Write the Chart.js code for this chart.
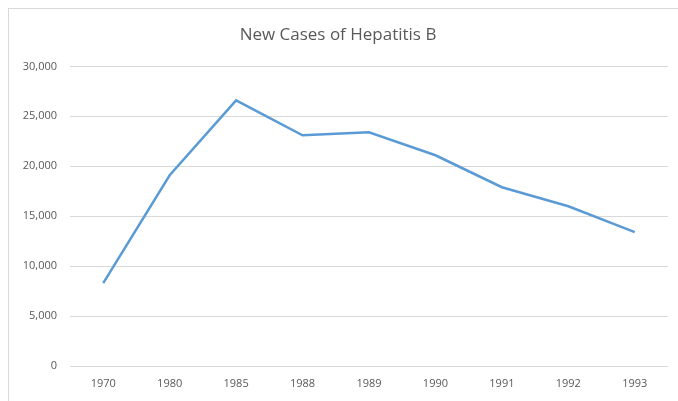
<!DOCTYPE html>
<html>
<head>
<meta charset="utf-8">
<script src="https://cdn.jsdelivr.net/npm/chart.js@4"></script>
<style>
    html, body { margin: 0; padding: 0; background: #fff; }
    #wrap { position: relative; width: 678px; height: 401px; }
    #frame {
        position: absolute; left: 8px; top: 8px; right: 0; bottom: 0;
        border-left: 1px solid #d9d9d9; border-top: 1px solid #d9d9d9;
        pointer-events: none;
    }
</style>
</head>
<body>
<div id="wrap">
    <canvas id="hepChart" width="678" height="401"></canvas>
    <div id="frame"></div>
</div>
<script>
// Chart data
const years = ['1970', '1980', '1985', '1988', '1989', '1990', '1991', '1992', '1993'];
const newCases = [8300, 19100, 26600, 23100, 23400, 21100, 17900, 16000, 13400];
const yTicks = [0, 5000, 10000, 15000, 20000, 25000, 30000];

const textColor = '#595959';
const gridColor = '#d9d9d9';

document.addEventListener('DOMContentLoaded', function() {
    const ctx = document.getElementById('hepChart');
    new Chart(ctx, {
        type: 'line',
        data: {
            labels: years,
            datasets: [{
                label: 'New Cases',
                data: newCases,
                borderColor: '#5b9bd5',
                borderWidth: 2.5,
                pointRadius: 0,
                tension: 0,
                fill: false
            }]
        },
        options: {
            responsive: false,
            animation: false,
            layout: {
                padding: { left: 8, right: 10, top: 0, bottom: 9 }
            },
            plugins: {
                legend: { display: false },
                tooltip: { enabled: false },
                title: {
                    display: true,
                    text: 'New Cases of Hepatitis B',
                    color: textColor,
                    font: { family: 'Open Sans', size: 17, weight: 'normal' },
                    padding: { top: 25, bottom: 21 }
                }
            },
            scales: {
                x: {
                    offset: true,
                    grid: { display: false, drawTicks: false },
                    border: { display: false },
                    ticks: {
                        color: textColor,
                        font: { family: 'Open Sans', size: 11 },
                        padding: 11,
                        maxRotation: 0
                    },
                    afterFit: function(scale) { scale.height = 26; }
                },
                y: {
                    min: yTicks[0],
                    max: yTicks[yTicks.length - 1],
                    afterBuildTicks: function(scale) {
                        scale.ticks = yTicks.map(v => ({ value: v }));
                    },
                    grid: { color: gridColor, lineWidth: 1, drawTicks: false },
                    border: { display: false },
                    ticks: {
                        color: textColor,
                        font: { family: 'Open Sans', size: 11 },
                        padding: 13,
                        callback: v => v.toLocaleString('en-US')
                    },
                    afterFit: function(scale) { scale.width = 62; }
                }
            }
        }
    });
});
</script>
</body>
</html>
